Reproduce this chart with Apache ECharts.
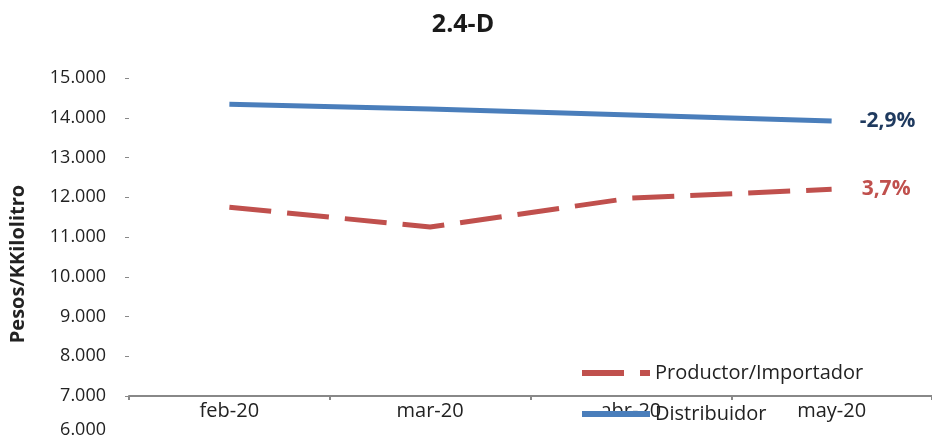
<!DOCTYPE html>
<html><head><meta charset="utf-8">
<script src="https://cdn.jsdelivr.net/npm/echarts@6/dist/echarts.min.js"></script>
<style>html,body{margin:0;padding:0;background:#fff}#c{width:932px;height:441px}</style>
</head><body><div id="c"></div>
<script>
const categories = ['feb-20', 'mar-20', 'abr-20', 'may-20'];
const productor = [11750, 11250, 11980, 12200];
const distribuidor = [14340, 14220, 14070, 13920];
const endLabels = ['3,7%', '-2,9%'];
const seriesNames = ['Productor/Importador', 'Distribuidor'];

const FONT = 'Open Sans';
const legendText = { fontFamily: FONT, fontSize: 20, color: '#222' };
const chart = echarts.init(document.getElementById('c'));
chart.setOption({
  animation: false,
  backgroundColor: '#fff',
  textStyle: { fontFamily: FONT },
  title: {
    text: '2.4-D', left: 458, textAlign: 'center', top: 7,
    textStyle: { fontFamily: FONT, fontSize: 25, fontWeight: 'bold', color: '#1a1a1a' }
  },
  legend: [
    {
      left: 582, top: 363, padding: 0, itemWidth: 68, itemHeight: 6,
      textStyle: legendText,
      data: [{ name: seriesNames[0], icon: 'path://M0,0 L42,0 L42,6 L0,6 Z M58,0 L68,0 L68,6 L58,6 Z' }]
    },
    {
      left: 582, top: 404, padding: 0, itemWidth: 68, itemHeight: 6,
      textStyle: legendText,
      data: [{ name: seriesNames[1], icon: 'rect' }]
    }
  ],
  grid: { left: 124, top: 78, width: 812, height: 318, containLabel: false },
  xAxis: {
    type: 'category', data: categories, boundaryGap: true,
    axisLine: { lineStyle: { color: '#888', width: 2 } },
    axisTick: { show: true, length: 4, lineStyle: { color: '#888', width: 2 } },
    axisLabel: { fontFamily: FONT, fontSize: 20, color: '#222', margin: 5 }
  },
  yAxis: {
    type: 'value', min: 7000, max: 15000, interval: 1000,
    name: 'Pesos/KKilolitro', nameLocation: 'middle', nameGap: 101, nameRotate: 90,
    nameTextStyle: { fontFamily: FONT, fontSize: 20, fontWeight: 'bold', color: '#222', padding: [0, 54, 0, 0] },
    axisLine: { show: false },
    axisTick: { show: true, length: 4, inside: false, lineStyle: { color: '#888', width: 1 } },
    splitLine: { show: false },
    axisLabel: {
      fontFamily: FONT, fontSize: 18, color: '#222', margin: 23,
      formatter: v => (v / 1000).toFixed(3)
    }
  },
  graphic: [
    { type: 'text', right: 826, top: 421, style: { text: '6.000', font: '18px "Open Sans"', fill: '#222' } }
  ],
  series: [
    {
      name: seriesNames[0], type: 'line', data: productor, symbol: 'none',
      lineStyle: { color: '#C0504D', width: 5, type: [42, 16] },
      itemStyle: { color: '#C0504D' },
      endLabel: { show: true, formatter: endLabels[0], fontFamily: FONT, fontSize: 21, fontWeight: 'bold', color: '#C0504D', offset: [22, 0] }
    },
    {
      name: seriesNames[1], type: 'line', data: distribuidor, symbol: 'none',
      lineStyle: { color: '#4A7EBB', width: 5 },
      itemStyle: { color: '#4A7EBB' },
      endLabel: { show: true, formatter: endLabels[1], fontFamily: FONT, fontSize: 21, fontWeight: 'bold', color: '#1F3A5F', offset: [20, 0] }
    }
  ]
});
</script></body></html>
